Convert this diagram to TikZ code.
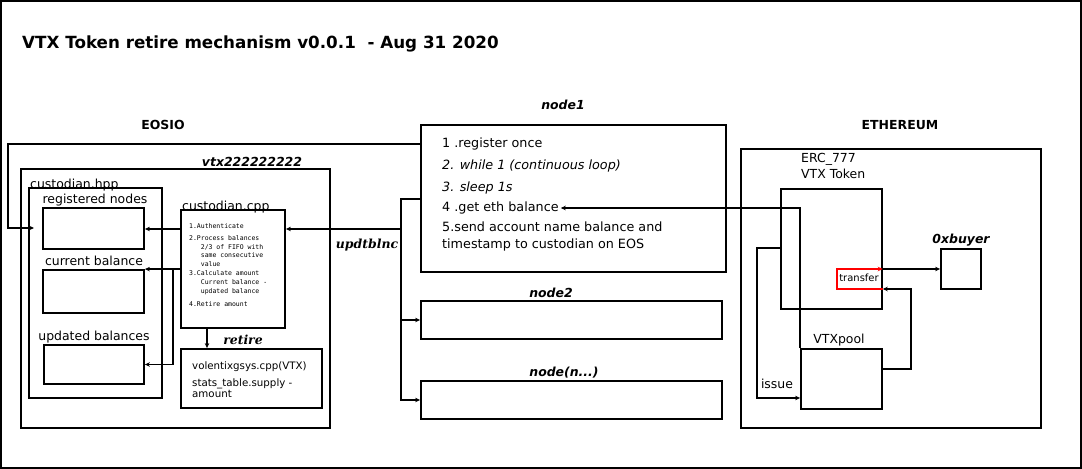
\documentclass[tikz,border=0pt]{standalone}
\usepackage{fontspec}
\setmainfont{DejaVu Sans}
\setmonofont{DejaVu Sans Mono}
\newfontfamily\serifbi{DejaVu Serif}
\usetikzlibrary{arrows.meta}
\tikzset{
  cbox/.style={draw, line width=1.8bp, inner sep=0pt},
  conn/.style={line width=1.6bp},
  lbl/.style={font=\fontsize{12.5}{15}\selectfont, inner sep=0pt},
  hdr/.style={font=\bfseries\fontsize{12.5}{15}\selectfont, inner sep=0pt},
  nlbl/.style={font=\bfseries\itshape\fontsize{12.5}{15}\selectfont, inner sep=0pt},
  slbl/.style={font=\serifbi\bfseries\itshape\fontsize{12.5}{15}\selectfont, inner sep=0pt},
}
\begin{document}
\begin{tikzpicture}[x=1bp, y=-1bp, >={Stealth[length=5bp,width=4.5bp]}]
\useasboundingbox (0,0) rectangle (1082,469);
\draw[line width=2bp] (1,1) rectangle (1081,468);
\node[hdr, anchor=west, font=\bfseries\fontsize{16.8}{20}\selectfont] (title) at (22,44) {VTX Token retire mechanism v0.0.1\ \ - Aug 31 2020};

% EOSIO
\node[hdr] (eosio) at (163,125) {EOSIO};
\node[cbox, minimum width=309bp, minimum height=259bp] (vtx) at (175.5,298.5) {};
\node[nlbl] (vtxlbl) at (252,162) {vtx222222222};
\node[cbox, minimum width=133bp, minimum height=210bp] (hpp) at (95.5,293) {};
\node[lbl, anchor=base west] (hpplbl) at (30,189) {custodian.hpp};
\node[cbox, minimum width=101bp, minimum height=41bp] (regnodes) at (93.5,228.5) {};
\node[lbl] (reglbl) at (95,200) {registered nodes};
\node[cbox, minimum width=101bp, minimum height=43bp] (curbal) at (93.5,291.5) {};
\node[lbl] (curlbl) at (94,261) {current balance};
\node[cbox, minimum width=100bp, minimum height=39bp] (updbal) at (94,364.5) {};
\node[lbl] (updlbl) at (94,337) {updated balances};
\node[cbox, minimum width=104bp, minimum height=118bp] (cpp) at (233,269) {};
\node[lbl, anchor=base west] (cpplbl) at (182,211) {custodian.cpp};
\node[anchor=north west, align=left, inner sep=0pt, font=\ttfamily\fontsize{6.5}{8.6}\selectfont] (cpptxt) at (189,223.5)
  {1.Authenticate\\[3.5bp]2.Process balances\\\hphantom{000}2/3 of FIFO with\\\hphantom{000}same consecutive\\\hphantom{000}value\\[0.5bp]3.Calculate amount\\[0.5bp]\hphantom{000}Current balance -\\\hphantom{000}updated balance\\[4.5bp]4.Retire amount};
\node[cbox, minimum width=141bp, minimum height=59bp] (volentix) at (251.5,378.5) {};
\node[anchor=north west, align=left, inner sep=0pt, font=\fontsize{10.3}{11.5}\selectfont] (voltxt) at (192,362)
  {volentixgsys.cpp(VTX)\\[5bp]stats\_table.supply -\\amount};
\node[slbl] (retirelbl) at (243,340) {retire};

% nodes
\node[nlbl] (node1lbl) at (563,105) {node1};
\node[cbox, minimum width=305bp, minimum height=147bp] (node1) at (573.5,198.5) {};
\node[lbl, anchor=west, font=\fontsize{12.8}{15}\selectfont] (step1) at (442,144) {1 .register once};
\node[lbl, anchor=west, font=\itshape\fontsize{12.8}{15}\selectfont] (step2) at (442,166) {2. while 1 (continuous loop)};
\node[lbl, anchor=west, font=\itshape\fontsize{12.8}{15}\selectfont] (step3) at (442,188) {3. sleep 1s};
\node[lbl, anchor=west, font=\fontsize{12.8}{15}\selectfont] (getbal) at (442,208) {4 .get eth balance};
\node[lbl, anchor=north west, align=left, font=\fontsize{12.8}{17}\selectfont] (step5) at (442,222)
  {5.send account name balance and\\timestamp to custodian on EOS};
\node[nlbl] (node2lbl) at (551,293) {node2};
\node[cbox, minimum width=301bp, minimum height=38bp] (node2) at (571.5,320) {};
\node[nlbl] (nodenlbl) at (564,373) {node(n...)};
\node[cbox, minimum width=301bp, minimum height=38bp] (noden) at (571.5,400) {};
\node[slbl] (updtlbl) at (367,245) {updtblnc};

% ETHEREUM
\node[hdr] (ethereum) at (900,125) {ETHEREUM};
\node[cbox, minimum width=300bp, minimum height=279bp] (eth) at (891,288.5) {};
\node[cbox, line width=1.5bp, minimum width=101bp, minimum height=120bp] (erc) at (831.5,249) {};
\node[lbl, anchor=north west, align=left, font=\fontsize{12.5}{16}\selectfont] (erclbl) at (801,153) {ERC\_777\\VTX Token};
\node[cbox, minimum width=40bp, minimum height=40bp] (buyer) at (961,269) {};
\node[nlbl] (buyerlbl) at (961,240) {0xbuyer};
\node[cbox, minimum width=81bp, minimum height=60bp] (pool) at (841.5,379) {};
\node[lbl] (poollbl) at (839,340) {VTXpool};
\node[lbl] (issuelbl) at (777,384) {issue};
\node[font=\fontsize{10}{12}\selectfont, inner sep=0pt] (transfer) at (859,278) {transfer};

% connectors
\coordinate (regin) at (34,228);
\draw[conn, ->] (node1.west |- 0,144) -| (8,228) -- (regin);
\draw[conn, ->] (node1.west |- 0,199) -| (401,400) -- (noden.west);
\draw[conn, ->] (401,320) -- (node2.west);
\draw[conn, ->] (401,229) -- (cpp.east |- 0,229);
\draw[conn, ->] (cpp.west |- 0,229) -- (regnodes.east |- 0,229);
\draw[conn, ->] (cpp.west |- curbal.north) -- (curbal.north east);
\draw[conn, ->] (173,270) |- (updbal.east);
\draw[conn, ->] (cpp.south -| 207,0) -- (volentix.north -| 207,0);
\draw[conn, line width=1.5bp, ->] (pool.north west) |- ([xshift=2bp]getbal.east);
\draw[conn, line width=1.5bp, ->] (erc.west |- 0,248) -| (757,398) -- (pool.west |- 0,398);
\draw[conn, line width=1.5bp, ->] (erc.east |- buyer) -- (buyer.west);
\draw[conn, line width=1.5bp, ->] (pool.east |- 0,369) -| (911,289) -- (erc.east |- 0,289);
\draw[conn, line width=1.5bp, red, ->] (erc.east |- 0,289) -| (837,269) -- (erc.east |- 0,269);
\end{tikzpicture}
\end{document}
